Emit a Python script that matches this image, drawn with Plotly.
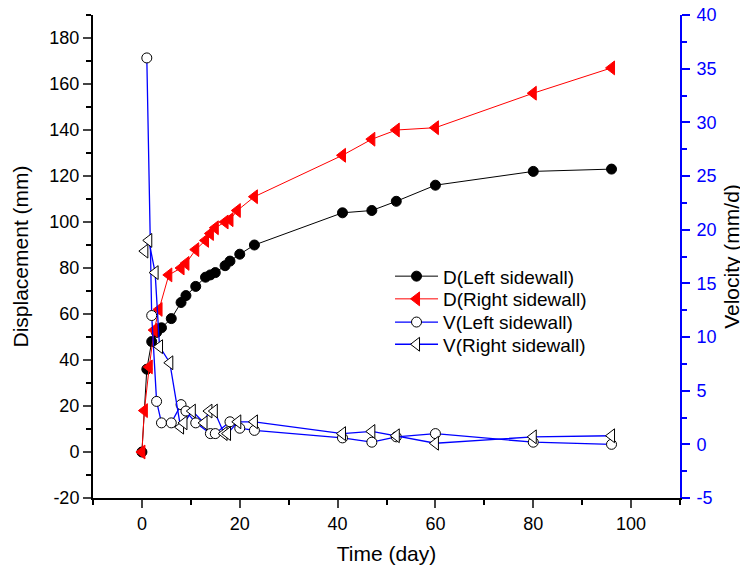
import plotly.graph_objects as go

# ---- data ----
t_dl = [0, 1, 2, 3, 4, 6, 8, 9, 11, 13, 14, 15, 17, 18, 20, 23, 41, 47, 52, 60, 80, 96]
d_left = [0, 36, 48, 52, 54, 58, 65, 68, 72, 76, 77, 78, 81, 83, 86, 90, 104, 105, 109, 116, 122, 123]

t_dr = [0, 0.5, 1.5, 2.5, 3.5, 5.5, 8, 9, 11, 13, 14, 15, 17, 18, 19.5, 23, 41, 47, 52, 60, 80, 96]
d_right = [0, 18, 37, 53, 62, 77, 80, 82, 88, 92, 95, 97.5, 100, 101, 105, 111, 129, 136, 140, 141, 156, 167]

t_vl = [1, 2, 3, 4, 6, 8, 9, 11, 14, 15, 18, 20, 23, 41, 47, 52, 60, 80, 96]
v_left = [36, 12, 4, 2, 2, 3.7, 3.1, 2, 1, 1, 2.1, 1.5, 1.3, 0.6, 0.2, 0.7, 1.0, 0.2, 0.0]

t_vr = [0.6, 1.4, 2.7, 3.6, 5.7, 7.9, 8.6, 10.3, 12.7, 13.7, 14.8, 16.8, 17.5, 19.6, 23, 41, 47, 52, 60, 80, 96]
v_right = [18, 19, 16, 9.1, 7.6, 1.6, 2, 3.1, 2, 3.1, 3.1, 1, 1, 2.1, 2.1, 1.0, 1.2, 0.8, 0.1, 0.7, 0.8]

x_ticks = [0, 20, 40, 60, 80, 100]
y_ticks = [-20, 0, 20, 40, 60, 80, 100, 120, 140, 160, 180]
y_ticklabels = ["-20", "0", "20", "40", "60", "80", "100", "120", "140", "160", "180"]
y2_ticks = [-5, 0, 5, 10, 15, 20, 25, 30, 35, 40]
y2_ticklabels = ["-5", "0", "5", "10", "15", "20", "25", "30", "35", "40"]

FONT = "Liberation Sans, Arial, sans-serif"

fig = go.Figure()
fig.add_trace(go.Scatter(
    x=t_dl, y=d_left, name="D(Left sidewall)", mode="lines+markers",
    line=dict(color="black", width=1),
    marker=dict(symbol="circle", size=10, color="black", line=dict(color="black", width=1)),
    yaxis="y", legend="legend"))
fig.add_trace(go.Scatter(
    x=t_dr, y=d_right, name="D(Right sidewall)", mode="lines+markers",
    line=dict(color="red", width=1),
    marker=dict(symbol="triangle-left", size=12, color="red", line=dict(color="red", width=1)),
    yaxis="y", legend="legend2"))
fig.add_trace(go.Scatter(
    x=t_vl, y=v_left, name="V(Left sidewall)", mode="lines+markers",
    line=dict(color="blue", width=1.3),
    marker=dict(symbol="circle", size=10, color="white", line=dict(color="black", width=1)),
    yaxis="y2", legend="legend3"))
fig.add_trace(go.Scatter(
    x=t_vr, y=v_right, name="V(Right sidewall)", mode="lines+markers",
    line=dict(color="blue", width=1.3),
    marker=dict(symbol="triangle-left", size=12, color="white", line=dict(color="black", width=1)),
    yaxis="y2", legend="legend4"))

def leg(yc):
    return dict(x=0.506, y=yc, xanchor="left", yanchor="middle",
                bgcolor="rgba(0,0,0,0)", font=dict(size=19, family=FONT), itemwidth=43)

# page body has an 8px margin, so the figure is 8px smaller and shifted accordingly
fig.update_layout(
    width=740, height=569,
    margin=dict(l=85, r=68, t=7, b=79, autoexpand=False),
    paper_bgcolor="white", plot_bgcolor="white",
    font=dict(family=FONT, size=18, color="black"),
    showlegend=True,
    legend=leg(0.459), legend2=leg(0.412), legend3=leg(0.364), legend4=leg(0.318),
    xaxis=dict(range=[-10, 110], tickvals=x_ticks, ticks="outside", ticklen=8, tickwidth=1.5,
               showline=True, linecolor="black", linewidth=2, showgrid=False, zeroline=False,
               automargin=False, ticklabelstandoff=0,
               minor=dict(dtick=10, tick0=0, ticks="outside", ticklen=5, tickwidth=1.5, tickcolor="black"),
               title=dict(text="Time (day)", font=dict(size=21), standoff=14),
               tickfont=dict(size=18)),
    xaxis2=dict(range=[-10, 110], tickvals=x_ticks, ticks="inside", ticklen=8, tickwidth=1.5,
                overlaying="x", side="top", anchor="y", showticklabels=False, automargin=False,
                showline=True, linecolor="black", linewidth=2, showgrid=False, zeroline=False,
                minor=dict(dtick=10, tick0=0, ticks="inside", ticklen=5, tickwidth=1.5, tickcolor="black")),
    yaxis=dict(range=[-20, 190], tickvals=y_ticks, ticktext=y_ticklabels,
               ticks="outside", ticklen=8, tickwidth=1.5, automargin=False, ticklabeloverflow="allow",
               showline=True, linecolor="black", linewidth=2, showgrid=False, zeroline=False,
               minor=dict(dtick=10, tick0=0, ticks="outside", ticklen=5, tickwidth=1.5, tickcolor="black"),
               title=dict(text="Displacement (mm)", font=dict(size=21), standoff=15),
               tickfont=dict(size=18)),
    yaxis2=dict(range=[-5, 40], tickvals=y2_ticks, ticktext=y2_ticklabels,
                overlaying="y", side="right", anchor="x", automargin=False, ticklabelstandoff=3,
                ticklabeloverflow="allow",
                ticks="outside", ticklen=8, tickwidth=1.5, tickcolor="blue",
                showline=True, linecolor="blue", linewidth=2, showgrid=False, zeroline=False,
                minor=dict(dtick=2.5, tick0=0, ticks="outside", ticklen=5, tickwidth=1.5, tickcolor="blue"),
                tickfont=dict(size=18, color="blue"),
                title=dict(text="Velocity (mm/d)", font=dict(size=21, color="black"), standoff=9)),
)

fig.write_html("out.html")
